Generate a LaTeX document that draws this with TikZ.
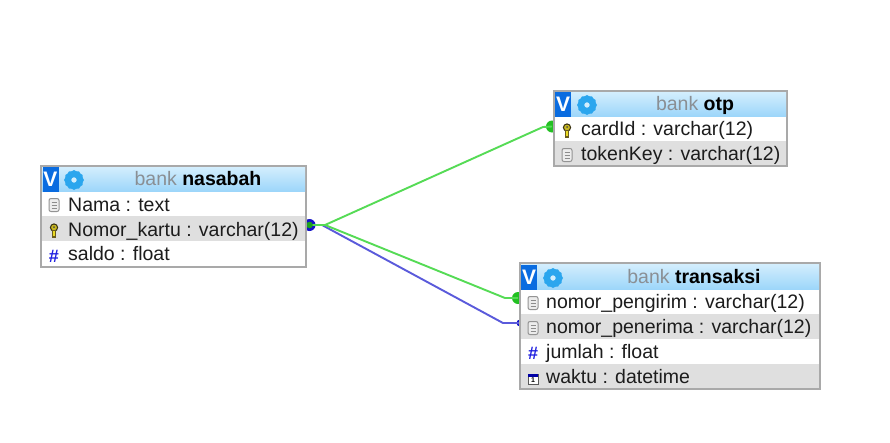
\documentclass[tikz,border=0pt]{standalone}
\usepackage{fontspec}
\setmainfont{Liberation Sans}
\usetikzlibrary{shapes.geometric}
\definecolor{frameC}{HTML}{A9A9A9}
\definecolor{rowC}{HTML}{DFDFDF}
\definecolor{headT}{HTML}{D3EEFD}
\definecolor{headB}{HTML}{9DD6FA}
\definecolor{badgeC}{HTML}{0A6CE0}
\definecolor{gearC}{HTML}{2BA6EE}
\definecolor{greenL}{HTML}{55DB55}
\definecolor{greenD}{HTML}{22C022}
\definecolor{blueL}{HTML}{5A5ADB}
\definecolor{blueD}{HTML}{1414C8}
\definecolor{hashC}{HTML}{2020E0}
\definecolor{keyC}{HTML}{B09A2E}
\definecolor{txtC}{HTML}{1C1C1C}
\definecolor{bankC}{HTML}{8A8F94}
\tikzset{
  x=1pt,y=-1pt,
  frameb/.style={draw=frameC,line width=1.3pt,fill=white},
  headb/.style={top color=headT,bottom color=headB,draw=none},
  rowshade/.style={fill=rowC,draw=none},
  rowtext/.style={anchor=base west,inner sep=0pt,font=\fontsize{19.5}{22}\selectfont,text=txtC},
  titletext/.style={anchor=base,inner sep=0pt,font=\fontsize{19.5}{22}\selectfont},
  badge/.style={fill=badgeC,draw=none,minimum width=16pt,minimum height=25pt,inner sep=0pt,text=white,font=\fontsize{21}{21}\bfseries\selectfont},
  gearhub/.style={circle,draw=gearC,line width=4pt,fill=headT,minimum size=10pt,inner sep=0pt},
  gearteeth/.style={regular polygon,regular polygon sides=6,fill=gearC,minimum size=20pt,inner sep=0pt,draw=none},
  hashic/.style={inner sep=0pt,font=\fontsize{18}{18}\bfseries\selectfont,text=hashC},
  endgreen/.style={circle,fill=greenD,minimum size=12pt,inner sep=0pt,draw=none},
  endblue/.style={circle,fill=blueD,minimum size=7pt,inner sep=0pt,draw=none},
  startblue/.style={circle,fill=blueD,minimum size=12pt,inner sep=0pt,draw=none},
  startgreen/.style={circle,fill=greenD!85!black,minimum size=6.5pt,inner sep=0pt,draw=none},
  linkg/.style={draw=greenL,line width=1.9pt},
  linkb/.style={draw=blueL,line width=1.9pt},
}
\newcommand{\fileicon}[2]{%
  \draw[draw=gray!85,fill=gray!15,line width=1pt,rounded corners=2pt] (#1-5,#2-6.5) rectangle (#1+5,#2+6.5);
  \foreach \dy in {-3,0,3}{\draw[gray!90,line width=.9pt] (#1-2.5,#2+\dy) -- (#1+2.5,#2+\dy);}
}
\newcommand{\keyicon}[2]{%
  \draw[draw=black!70!keyC,fill=keyC!70!yellow,line width=1pt] (#1,#2-2.5) circle (3.6pt);
  \fill[black!70] (#1,#2-3) circle (1pt);
  \fill[keyC!60!black] (#1-2,#2) rectangle (#1+2,#2+7.5);
  \fill[yellow!70!keyC] (#1-.7,#2+1) rectangle (#1+.7,#2+5.5);
}
\newcommand{\calicon}[2]{%
  \draw[draw=black!65,fill=white,line width=.8pt] (#1-5,#2-5) rectangle (#1+5,#2+5);
  \fill[blue!65!black] (#1-5,#2-5) rectangle (#1+5,#2-2);
  \node[inner sep=0pt,font=\fontsize{7}{7}\bfseries\selectfont] at (#1,#2+1.5) {1};
}
\begin{document}
\begin{tikzpicture}
\useasboundingbox (0,0) rectangle (890,442);
\fill[white] (0,0) rectangle (890,442);

% connectors are drawn first, the tables sit on top
\node[startblue] (src) at (309.5,225) {};
\coordinate (srcB) at (322,225);
\coordinate (srcG) at (325,225);
\node[endgreen] (otpEnd) at (552,126.5) {};
\node[endgreen] (trxEndA) at (518,298) {};
\node[endblue] (trxEndB) at (520,323) {};
\coordinate (bendOtp) at (543,127);
\coordinate (bendA) at (505,298);
\coordinate (bendB) at (503,323);
\draw[linkb] (src.center) -- (srcB) -- (bendB) -- (trxEndB.center);
\draw[linkg] (src.center) -- (srcG) -- (bendOtp) -- (otpEnd.center);
\draw[linkg] (src.center) -- (srcG) -- (bendA) -- (trxEndA.center);
\node[startgreen] (srcDot) at (309.5,225) {};

% ---------- nasabah
\draw[frameb] (41,166) rectangle (306,267);
\fill[headb] (42,167) rectangle (305,191);
\fill[rowshade] (42,216) rectangle (305,241);
\node[badge] (nasV) at (50.5,179) {V};
\node[gearteeth] (nasGearA) at (74,180) {};
\node[gearteeth,rotate=30] (nasGearB) at (74,180) {};
\node[gearhub] (nasGear) at (74,180) {};
\path (198,185) node[titletext] (nasT) {\textcolor{bankC}{bank} \textbf{nasabah}};
\fileicon{54}{205}
\keyicon{54}{230}
\node[hashic] (nasH) at (54,256) {\#};
\path (68,211) node[rowtext] (nas1) {Nama : text};
\path (68,236) node[rowtext] (nas2) {Nomor\_kartu : varchar(12)};
\path (68,260) node[rowtext] (nas3) {saldo : float};

% ---------- otp
\draw[frameb] (554,91) rectangle (787,166);
\fill[headb] (555,92) rectangle (786,116);
\fill[rowshade] (555,141) rectangle (786,165);
\node[badge] (otpV) at (563,104) {V};
\node[gearteeth] (otpGearA) at (587,105) {};
\node[gearteeth,rotate=30] (otpGearB) at (587,105) {};
\node[gearhub] (otpGear) at (587,105) {};
\path (695,110) node[titletext] (otpT) {\textcolor{bankC}{bank} \textbf{otp}};
\keyicon{567}{130}
\fileicon{567}{155}
\path (581,135) node[rowtext] (otp1) {cardId : varchar(12)};
\path (581,160) node[rowtext] (otp2) {tokenKey : varchar(12)};

% ---------- transaksi
\draw[frameb] (520,263) rectangle (820,389);
\fill[headb] (521,264) rectangle (819,289);
\fill[rowshade] (521,314) rectangle (819,339);
\fill[rowshade] (521,364) rectangle (819,388);
\node[badge] (trxV) at (529,277) {V};
\node[gearteeth] (trxGearA) at (553,278) {};
\node[gearteeth,rotate=30] (trxGearB) at (553,278) {};
\node[gearhub] (trxGear) at (553,278) {};
\path (694,283) node[titletext] (trxT) {\textcolor{bankC}{bank} \textbf{transaksi}};
\fileicon{533}{303}
\fileicon{533}{328}
\node[hashic] (trxH) at (533,353) {\#};
\calicon{533}{379}
\path (546,308) node[rowtext] (trx1) {nomor\_pengirim : varchar(12)};
\path (546,333) node[rowtext] (trx2) {nomor\_penerima : varchar(12)};
\path (546,358) node[rowtext] (trx3) {jumlah : float};
\path (546,383) node[rowtext] (trx4) {waktu : datetime};
\end{tikzpicture}
\end{document}
